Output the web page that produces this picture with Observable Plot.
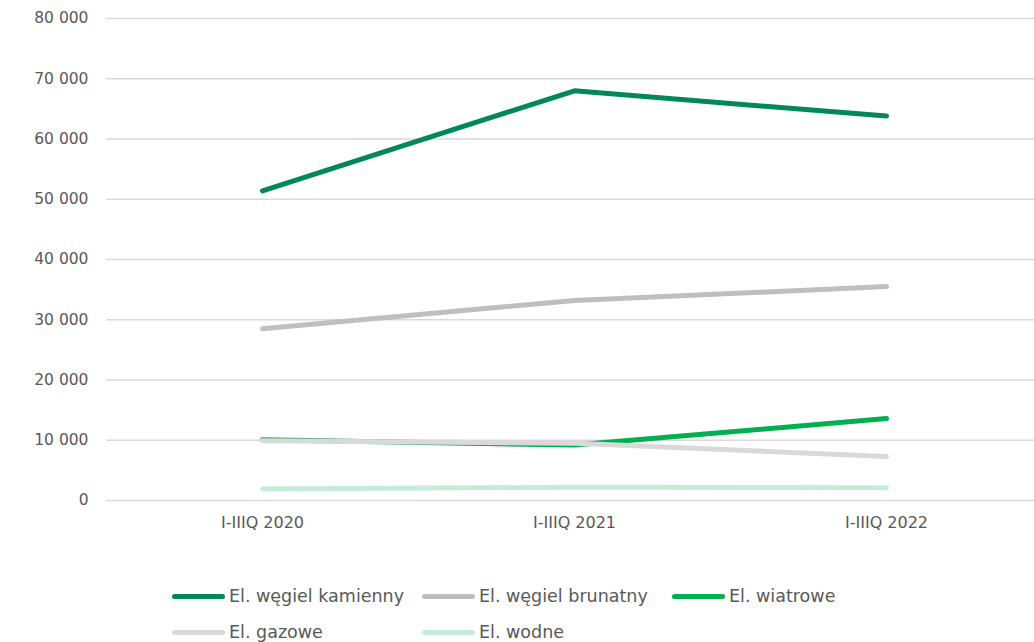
<!DOCTYPE html>
<html><head><meta charset="utf-8">
<script src="https://cdn.jsdelivr.net/npm/d3@7"></script>
<script src="https://cdn.jsdelivr.net/npm/@observablehq/plot@0.6"></script>
<style>
body{margin:0;background:#fff;font-family:"DejaVu Sans",sans-serif;color:#595959;}
#wrap{position:relative;width:1034px;height:642px;overflow:hidden;}
#legend{position:absolute;left:172px;top:584px;display:grid;grid-template-columns:250px 250px 250px;row-gap:12px;}
.item{display:flex;align-items:center;font-size:17.5px;height:24px;white-space:nowrap;}
.sw{width:53px;height:5px;border-radius:3px;margin-right:4px;}
</style></head><body><div id="wrap"><div id="chart"></div><div id="legend"></div></div>
<script>
const categories = ["I-IIIQ 2020", "I-IIIQ 2021", "I-IIIQ 2022"];
const seriesNames = ["El. węgiel kamienny", "El. węgiel brunatny", "El. wiatrowe", "El. gazowe", "El. wodne"];
const kamienny = [51400, 68000, 63800];
const brunatny = [28500, 33200, 35500];
const wiatrowe = [10100, 9200, 13600];
const gazowe = [9900, 9500, 7300];
const wodne = [1900, 2200, 2100];
const colors = ["#00875A", "#BFBFBF", "#00B050", "#D9D9D9", "#C6EBD8"];
const yTicks = [0, 10000, 20000, 30000, 40000, 50000, 60000, 70000, 80000];

const allSeries = [kamienny, brunatny, wiatrowe, gazowe, wodne];
const data = [];
allSeries.forEach((vals, i) => vals.forEach((v, j) => data.push({series: seriesNames[i], cat: categories[j], value: v})));
const fmt = v => d3.format(",")(v).replace(/,/g, " ");

const chart = Plot.plot({
  width: 1034, height: 540,
  marginTop: 18, marginBottom: 40, marginLeft: 106, marginRight: 0,
  style: {fontFamily: '"DejaVu Sans", sans-serif', fontSize: "15px", color: "#595959", background: "#fff"},
  x: {type: "point", domain: categories, range: [262, 886], padding: 0, label: null},
  y: {domain: [0, 80000], label: null},
  color: {domain: seriesNames, range: colors},
  marks: [
    Plot.ruleY(yTicks, {stroke: "#D9D9D9", strokeWidth: 1.5}),
    Plot.axisY(yTicks, {tickSize: 0, tickPadding: 18, tickFormat: fmt, fill: "#595959", fontSize: 15.5}),
    Plot.axisX(categories, {tickSize: 0, tickPadding: 16, fill: "#595959", fontSize: 16}),
    Plot.line(data, {x: "cat", y: "value", z: "series", stroke: "series", strokeWidth: 5, strokeLinecap: "round", strokeLinejoin: "round"})
  ]
});
document.getElementById("chart").appendChild(chart);
const legend = document.getElementById("legend");
seriesNames.forEach((n, i) => {
  const d = document.createElement("div"); d.className = "item";
  d.innerHTML = `<span class="sw" style="background:${colors[i]}"></span><span>${n}</span>`;
  legend.appendChild(d);
});
</script></body></html>
